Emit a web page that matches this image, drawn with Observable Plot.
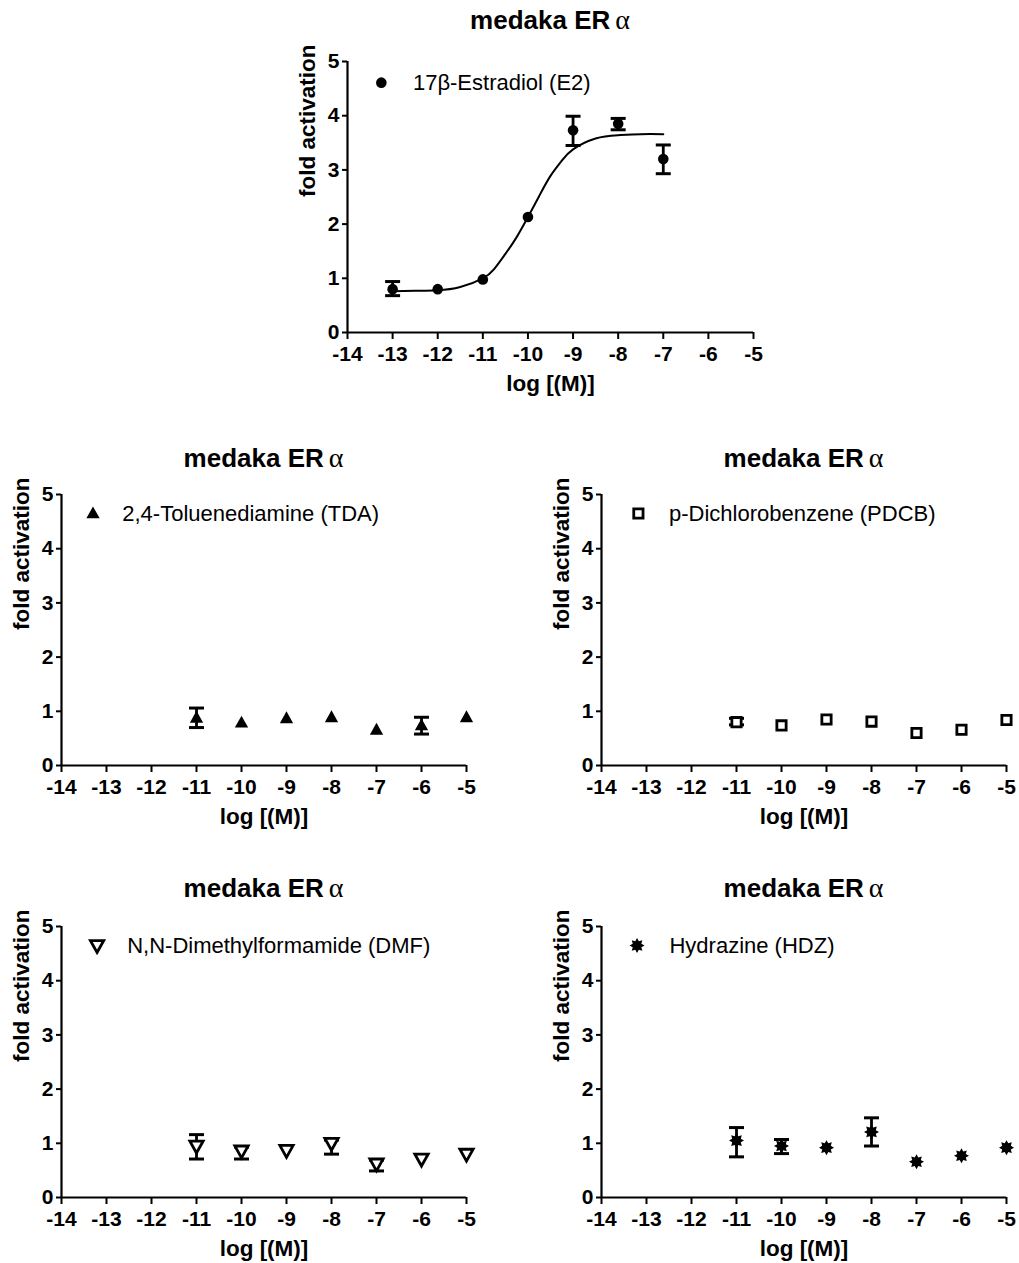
<!DOCTYPE html>
<html>
<head>
<meta charset="utf-8">
<script src="https://cdn.jsdelivr.net/npm/d3@7"></script>
<script src="https://cdn.jsdelivr.net/npm/@observablehq/plot@0.6"></script>
<style>
  body { margin: 0; background: #fff; font-family: "Liberation Sans", Arial, sans-serif; }
  #root { position: relative; width: 1019px; height: 1263px; overflow: hidden; }
  .panel { position: absolute; }
  .panel svg { overflow: visible; }
  .title { position: absolute; font-weight: bold; font-size: 26px; text-align: center; white-space: nowrap; transform: translate(-50%, -50%); color: #000; }
  .title .greek { font-family: "Liberation Serif", "DejaVu Serif", serif; font-weight: normal; font-size: 28px; margin-left: 5px; }
</style>
</head>
<body>
<div id="root"></div>
<script>
// ---------- data ----------
const panelTitle = "medaka ER";
const greek = "α";
const xLabel = "log [(M)]";
const yLabel = "fold activation";
const xTicks = [-14, -13, -12, -11, -10, -9, -8, -7, -6, -5];
const yTicks = [0, 1, 2, 3, 4, 5];

// 17β-Estradiol (E2)
const e2Name = "17β-Estradiol (E2)";
const e2X  = [-13, -12, -11, -10, -9, -8, -7];
const e2Y  = [0.80, 0.80, 0.98, 2.13, 3.73, 3.85, 3.20];
const e2Lo = [0.68, null, null, null, 3.45, 3.74, 2.93];
const e2Hi = [0.94, null, null, null, 3.99, 3.95, 3.46];
// fitted curve
const e2CurveX = [-13, -12.5, -12, -11.5, -11, -10.75, -10.5, -10.25, -10, -9.75, -9.5, -9.25, -9, -8.5, -8, -7.5, -7];
const e2CurveY = [0.76, 0.77, 0.78, 0.84, 1.00, 1.17, 1.45, 1.76, 2.13, 2.52, 2.89, 3.17, 3.38, 3.58, 3.64, 3.66, 3.66];

const testX = [-11, -10, -9, -8, -7, -6, -5];

// 2,4-Toluenediamine (TDA)
const tdaName = "2,4-Toluenediamine (TDA)";
const tdaY  = [0.88, 0.79, 0.87, 0.89, 0.66, 0.74, 0.89];
const tdaLo = [0.70, null, null, null, null, 0.58, null];
const tdaHi = [1.06, null, null, null, null, 0.89, null];

// p-Dichlorobenzene (PDCB)
const pdcbName = "p-Dichlorobenzene (PDCB)";
const pdcbY  = [0.80, 0.74, 0.85, 0.81, 0.60, 0.66, 0.84];
const pdcbLo = [0.75, null, null, null, null, null, null];
const pdcbHi = [0.87, null, null, null, null, null, null];

// N,N-Dimethylformamide (DMF)
const dmfName = "N,N-Dimethylformamide (DMF)";
const dmfY  = [0.95, 0.86, 0.87, 1.00, 0.62, 0.71, 0.80];
const dmfLo = [0.71, 0.71, null, 0.80, 0.49, null, null];
const dmfHi = [1.16, 0.93, null, 1.06, 0.69, null, null];

// Hydrazine (HDZ)
const hdzName = "Hydrazine (HDZ)";
const hdzY  = [1.05, 0.95, 0.92, 1.21, 0.66, 0.77, 0.92];
const hdzLo = [0.75, 0.81, null, 0.95, null, null, null];
const hdzHi = [1.29, 1.07, null, 1.47, null, null, null];

// ---------- symbols ----------
const symTriUp = { draw(ctx, size) { const r = Math.sqrt(size / Math.PI);
  ctx.moveTo(0, -r); ctx.lineTo(r * 0.95, r * 0.7); ctx.lineTo(-r * 0.95, r * 0.7); ctx.closePath(); } };
const symTriDown = { draw(ctx, size) { const r = Math.sqrt(size / Math.PI);
  ctx.moveTo(0, r); ctx.lineTo(r * 0.95, -r * 0.7); ctx.lineTo(-r * 0.95, -r * 0.7); ctx.closePath(); } };
const symSquare = { draw(ctx, size) { const r = Math.sqrt(size / Math.PI) * 0.8;
  ctx.moveTo(-r, -r); ctx.lineTo(r, -r); ctx.lineTo(r, r); ctx.lineTo(-r, r); ctx.closePath(); } };
const symStar = { draw(ctx, size) { const r = Math.sqrt(size / Math.PI);
  for (let i = 0; i < 16; i++) { const a = i * Math.PI / 8; const rr = i % 2 ? r * 0.62 : r;
    const px = rr * Math.sin(a), py = -rr * Math.cos(a); i ? ctx.lineTo(px, py) : ctx.moveTo(px, py); }
  ctx.closePath(); } };
const symCap = { draw(ctx, size) { const r = Math.sqrt(size / Math.PI);
  ctx.moveTo(-r, 0); ctx.lineTo(r, 0); } };

// ---------- panel builder ----------
const root = document.getElementById("root");

function buildPanel(cfg) {
  const pts = cfg.x.map((x, i) => ({x, y: cfg.y[i], lo: cfg.lo[i], hi: cfg.hi[i]}));
  const errs = pts.filter(d => d.lo != null);
  const marks = [
    Plot.axisX({ticks: xTicks, tickSize: 7, tickPadding: 7, tickFormat: d => String(d), fontSize: 21, fontWeight: "bold",
      strokeWidth: 2, stroke: "black", fill: "black", label: null}),
    Plot.axisY({ticks: yTicks, tickSize: 5, tickPadding: 3, tickFormat: d => String(d), fontSize: 21, fontWeight: "bold",
      strokeWidth: 2, stroke: "black", fill: "black", label: null}),
    Plot.ruleY([0], {stroke: "black", strokeWidth: 2.2}),
    Plot.ruleX([-14], {stroke: "black", strokeWidth: 2.2}),
    Plot.text([yLabel], {frameAnchor: "left", rotate: -90, dx: -40, fontSize: 22.5, fontWeight: "bold", fill: "black"}),
    Plot.text([xLabel], {frameAnchor: "bottom", dy: 58, fontSize: 22.5, fontWeight: "bold", fill: "black"})
  ];
  if (cfg.curveX) {
    const curve = cfg.curveX.map((x, i) => ({x, y: cfg.curveY[i]}));
    marks.push(Plot.line(curve, {x: "x", y: "y", curve: "natural", stroke: "black", strokeWidth: 2}));
  }
  marks.push(
    Plot.ruleX(errs, {x: "x", y1: "lo", y2: "hi", stroke: "black", strokeWidth: 2.8}),
    Plot.dot(errs, {x: "x", y: "lo", symbol: symCap, r: 7.5, stroke: "black", strokeWidth: 3, fill: "none"}),
    Plot.dot(errs, {x: "x", y: "hi", symbol: symCap, r: 7.5, stroke: "black", strokeWidth: 3, fill: "none"}),
    Plot.dot(pts, {x: "x", y: "y", symbol: cfg.symbol, r: cfg.r, fill: cfg.fill, stroke: "black", strokeWidth: cfg.sw}),
    Plot.dot([cfg.legendPos], {x: "x", y: "y", symbol: cfg.symbol, r: cfg.r, fill: cfg.fill, stroke: "black", strokeWidth: cfg.sw}),
    Plot.text([cfg.name], {x: () => cfg.legendTextX, y: () => cfg.legendPos.y, textAnchor: "start", fontSize: 22, fill: "black"})
  );
  const chart = Plot.plot({
    width: cfg.width, height: cfg.height,
    marginLeft: cfg.mL, marginRight: cfg.mR, marginTop: cfg.mT, marginBottom: cfg.mB,
    style: {fontFamily: '"Liberation Sans", Arial, sans-serif', background: "white", overflow: "visible"},
    x: {domain: [-14, -5], axis: null},
    y: {domain: [0, 5], axis: null},
    marks
  });
  const wrap = document.createElement("div");
  wrap.className = "panel";
  wrap.style.left = cfg.left + "px";
  wrap.style.top = cfg.top + "px";
  wrap.appendChild(chart);
  root.appendChild(wrap);

  const t = document.createElement("div");
  t.className = "title";
  t.style.left = (cfg.left + cfg.mL + (cfg.width - cfg.mL - cfg.mR) / 2) + "px";
  t.style.top = (cfg.top + cfg.mT - cfg.titleGap) + "px";
  t.innerHTML = panelTitle + '<span class="greek">' + greek + '</span>';
  root.appendChild(t);
}

buildPanel({name: e2Name, x: e2X, y: e2Y, lo: e2Lo, hi: e2Hi, curveX: e2CurveX, curveY: e2CurveY,
  symbol: "circle", r: 5.3, fill: "black", sw: 0,
  legendPos: {x: -13.25, y: 4.61}, legendTextX: -12.55,
  left: 250, top: 40, width: 520, height: 370, mL: 97, mR: 17, mT: 21, mB: 78, titleGap: 41});

buildPanel({name: tdaName, x: testX, y: tdaY, lo: tdaLo, hi: tdaHi,
  symbol: symTriUp, r: 7, fill: "black", sw: 0,
  legendPos: {x: -13.3, y: 4.65}, legendTextX: -12.65,
  left: 0, top: 480, width: 490, height: 350, mL: 61, mR: 24, mT: 14, mB: 65, titleGap: 36});

buildPanel({name: pdcbName, x: testX, y: pdcbY, lo: pdcbLo, hi: pdcbHi,
  symbol: symSquare, r: 5.8, fill: "white", sw: 2.8,
  legendPos: {x: -13.18, y: 4.65}, legendTextX: -12.5,
  left: 540, top: 480, width: 479, height: 350, mL: 61, mR: 13, mT: 14, mB: 65, titleGap: 36});

buildPanel({name: dmfName, x: testX, y: dmfY, lo: dmfLo, hi: dmfHi,
  symbol: symTriDown, r: 7, fill: "white", sw: 2.8,
  legendPos: {x: -13.21, y: 4.65}, legendTextX: -12.54,
  left: 0, top: 912, width: 490, height: 350, mL: 61, mR: 24, mT: 14, mB: 65, titleGap: 38});

buildPanel({name: hdzName, x: testX, y: hdzY, lo: hdzLo, hi: hdzHi,
  symbol: symStar, r: 7.5, fill: "black", sw: 0,
  legendPos: {x: -13.21, y: 4.65}, legendTextX: -12.49,
  left: 540, top: 912, width: 479, height: 350, mL: 61, mR: 13, mT: 14, mB: 65, titleGap: 38});
</script>
</body>
</html>
